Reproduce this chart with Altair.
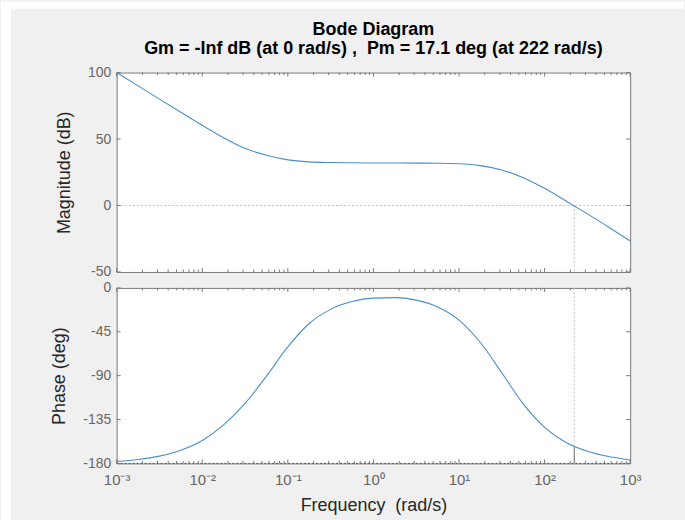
import json
import altair as alt
import pandas as pd

# ---------------- data ----------------
FREQ = [0.001, 0.001778, 0.003162, 0.005623, 0.01, 0.01778, 0.03162, 0.05623,
        0.1, 0.1778, 0.3162, 0.5623, 1.0, 1.778, 3.162, 5.623,
        10.0, 17.78, 31.62, 56.23, 100.0, 177.8, 316.2, 562.3, 1000.0]
MAG_DB = [100.0, 90.0, 80.0, 70.1, 60.3, 51.0, 43.0, 37.8,
          34.3, 32.8, 32.3, 32.1, 32.0, 32.0, 31.9, 31.8,
          31.4, 30.0, 26.7, 20.9, 12.9, 3.4, -6.3, -16.3, -26.7]
PHASE_DEG = [-178.0, -176.0, -172.5, -166.5, -156.5, -140.5, -118.5, -90.5,
             -60.5, -36.5, -22.0, -14.0, -10.5, -10.0, -12.5, -19.5,
             -33.0, -56.0, -87.0, -119.0, -143.0, -158.5, -167.5, -173.0, -176.5]

DECADES = [0.001, 0.01, 0.1, 1.0, 10.0, 100.0, 1000.0]
DECADE_LABELS = ["10⁻³", "10⁻²", "10⁻¹", "10⁰", "10¹", "10²", "10³"]
MINOR = [k * d for d in [0.001, 0.01, 0.1, 1.0, 10.0, 100.0] for k in range(2, 10)]
MAG_TICKS = [100, 50, 0, -50]
PHASE_TICKS = [0, -45, -90, -135, -180]

PM_FREQ = 222.0
PM_DEG = 17.1

TITLE = ["Bode Diagram", "Gm = -Inf dB (at 0 rad/s) ,\u00a0 Pm = 17.1 deg (at 222 rad/s)"]

# ---------------- styling ----------------
W, H1, H2, GAP = 515, 200, 176, 16
FONT = "Liberation Sans"
BLUE = "#4a8ecb"
BOX = "#7a7a7a"
FAINT = "#c4c4c4"
BG = "#f0f0f0"

xscale = alt.Scale(type="log", domain=[0.001, 1000], nice=False)
label_expr = json.dumps(DECADE_LABELS, ensure_ascii=False) + "[round(log(datum.value)/LN10)+3]"


def inner_ticks(X, H, Y, yticks):
    maj = pd.DataFrame({"f": DECADES})
    mnr = pd.DataFrame({"f": MINOR})
    yt = pd.DataFrame({"v": yticks})
    return [
        alt.Chart(maj).mark_rule(color=BOX).encode(x=X, y=alt.value(0), y2=alt.value(4)),
        alt.Chart(maj).mark_rule(color=BOX).encode(x=X, y=alt.value(H), y2=alt.value(H - 4)),
        alt.Chart(mnr).mark_rule(color=BOX).encode(x=X, y=alt.value(0), y2=alt.value(2.5)),
        alt.Chart(mnr).mark_rule(color=BOX).encode(x=X, y=alt.value(H), y2=alt.value(H - 2.5)),
        alt.Chart(yt).mark_rule(color=BOX).encode(y=Y, x=alt.value(0), x2=alt.value(4)),
        alt.Chart(yt).mark_rule(color=BOX).encode(y=Y, x=alt.value(W), x2=alt.value(W - 4)),
    ]


# ---------------- magnitude panel ----------------
Xtop = alt.X("f:Q", scale=xscale, axis=None)
Ymag = alt.Y("v:Q", scale=alt.Scale(domain=[-50, 100], nice=False, zero=False),
             axis=alt.Axis(values=MAG_TICKS, title="Magnitude (dB)", titlePadding=14,
                           labelExpr="toString(datum.value)"))

mag_df = pd.DataFrame({"f": FREQ, "v": MAG_DB})
zero_line = alt.Chart(pd.DataFrame({"v": [0]})).mark_rule(
    color=FAINT, strokeDash=[2, 2], strokeWidth=1).encode(y=Ymag, x=alt.value(0), x2=alt.value(W))
mag_vline = alt.Chart(pd.DataFrame({"f": [PM_FREQ], "v": [0], "v2": [-50]})).mark_rule(
    color=FAINT, strokeDash=[2, 2], strokeWidth=1).encode(x=Xtop, y=Ymag, y2="v2:Q")
mag_line = alt.Chart(mag_df).mark_line(color=BLUE, strokeWidth=1.1, interpolate="monotone", clip=True).encode(
    x=Xtop, y=Ymag)

top = alt.layer(
    zero_line, mag_vline, *inner_ticks(Xtop, H1, Ymag, MAG_TICKS), mag_line
).properties(
    width=W, height=H1,
    title=alt.Title(TITLE, fontSize=18, fontWeight="bold", font=FONT, color="black",
                    lineHeight=19, offset=8, anchor="middle", frame="group"),
)

# ---------------- phase panel ----------------
Xbot = alt.X("f:Q", scale=xscale,
             axis=alt.Axis(values=DECADES, labelExpr=label_expr, title="Frequency\u00a0 (rad/s)",
                           labelFlush=False, labelPadding=9, labelFontSize=15, titlePadding=9))
Yph = alt.Y("v:Q", scale=alt.Scale(domain=[-180, 0], nice=False, zero=False),
            axis=alt.Axis(values=PHASE_TICKS, title="Phase (deg)", titlePadding=14,
                          labelExpr="toString(datum.value)"))

ph_df = pd.DataFrame({"f": FREQ, "v": PHASE_DEG})
pm_at = -180 + PM_DEG
ph_faint = alt.Chart(pd.DataFrame({"f": [PM_FREQ], "v": [0], "v2": [pm_at]})).mark_rule(
    color=FAINT, strokeDash=[2, 2], strokeWidth=1).encode(x=Xbot, y=Yph, y2="v2:Q")
ph_dark = alt.Chart(pd.DataFrame({"f": [PM_FREQ], "v": [pm_at], "v2": [-180]})).mark_rule(
    color="#666666", strokeWidth=1).encode(x=Xbot, y=Yph, y2="v2:Q")
m180 = alt.Chart(pd.DataFrame({"v": [-180]})).mark_rule(
    color="#555555", strokeDash=[2, 2], strokeWidth=1).encode(y=Yph, x=alt.value(0), x2=alt.value(W))
ph_line = alt.Chart(ph_df).mark_line(color=BLUE, strokeWidth=1.1, interpolate="monotone", clip=True).encode(
    x=Xbot, y=Yph)

# white border of the screenshot (left and top strips)
one = pd.DataFrame({"a": [0]})
strip_left = alt.Chart(one).mark_rect(color="white").encode(
    x=alt.value(-116), x2=alt.value(-106), y=alt.value(-287), y2=alt.value(233))
strip_top = alt.Chart(one).mark_rect(color="white").encode(
    x=alt.value(-116), x2=alt.value(569), y=alt.value(-287), y2=alt.value(-280))

bottom = alt.layer(
    strip_left, strip_top, ph_faint, m180, *inner_ticks(Xbot, H2, Yph, PHASE_TICKS), ph_dark, ph_line
).properties(width=W, height=H2)

chart = alt.vconcat(top, bottom, spacing=GAP, bounds="flush").properties(
    background=BG, padding=0
).configure_view(
    fill="white", stroke=BOX, strokeWidth=1
).configure_axis(
    domain=False, ticks=False, grid=False,
    labelFont=FONT, labelFontSize=14, labelColor="#666666", labelPadding=6,
    titleFont=FONT, titleFontSize=18, titleFontWeight="normal", titleColor="#262626",
)

chart.save("out.html", embed_options={"renderer": "svg", "actions": False})
